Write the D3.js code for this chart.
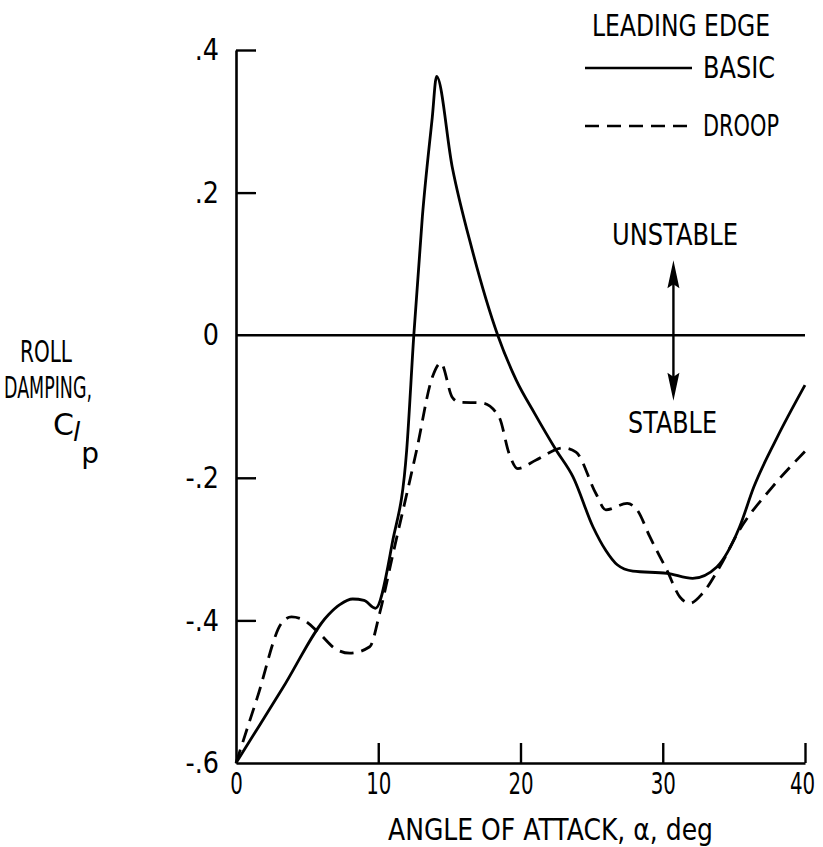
<!DOCTYPE html>
<html>
<head>
<meta charset="utf-8">
<script src="https://cdn.jsdelivr.net/npm/d3@7"></script>
<style>
  html, body { margin: 0; padding: 0; background: #fff; }
  svg text { font-family: "DejaVu Sans", sans-serif; fill: #000; }
</style>
</head>
<body>
<svg id="chart" width="823" height="847"></svg>
<script>
// ---- data ----
const basicAlpha = [0, 3.25, 6.5, 7.3, 8.2, 9.0, 9.8, 11.0, 12.0, 12.5, 13.1, 13.8, 14.1, 15.2, 16.6, 18.4, 19.7, 21.0, 22.5, 23.7, 25.1, 26.0, 26.8, 27.9, 30.3, 32.1, 33.8, 35.4, 36.4, 38.0, 40];
const basicCl    = [-0.6, -0.496, -0.392, -0.378, -0.370, -0.372, -0.383, -0.29, -0.161, 0, 0.166, 0.306, 0.363, 0.236, 0.12, 0, -0.063, -0.11, -0.161, -0.199, -0.269, -0.302, -0.322, -0.331, -0.334, -0.341, -0.325, -0.269, -0.213, -0.145, -0.07];

const droopAlpha = [0, 1.5, 3.2, 3.9, 4.8, 5.85, 7.0, 8.0, 9.4, 10.1, 11.0, 12.7, 13.8, 14.4, 15.2, 15.7, 17.3, 18.5, 19.2, 19.8, 21.1, 23.0, 23.9, 25.3, 26.0, 27.5, 28.2, 29.1, 30.3, 31.2, 31.9, 32.8, 34.0, 35.4, 37.7, 40];
const droopCl    = [-0.6, -0.508, -0.404, -0.395, -0.40, -0.418, -0.44, -0.446, -0.437, -0.39, -0.31, -0.161, -0.059, -0.039, -0.087, -0.094, -0.095, -0.115, -0.166, -0.187, -0.175, -0.158, -0.164, -0.222, -0.245, -0.236, -0.245, -0.283, -0.33, -0.367, -0.376, -0.362, -0.325, -0.273, -0.213, -0.163];

const xTickValues = [0, 10, 20, 30, 40];
const xTickLabels = ["0", "10", "20", "30", "40"];
const yTickValues = [0.4, 0.2, 0, -0.2, -0.4, -0.6];
const yTickLabels = [".4", ".2", "0", "-.2", "-.4", "-.6"];

const seriesNames = ["BASIC", "DROOP"];
const legendTitle = "LEADING EDGE";
const xTitle = "ANGLE OF ATTACK, \u03b1, deg";
const yTitleLines = ["ROLL", "DAMPING,"];

// ---- setup ----
const svg = d3.select("#chart");
const x = d3.scaleLinear().domain([0, 40]).range([236, 805]);
const y = d3.scaleLinear().domain([-0.6, 0.4]).range([763, 50]);

const stroke = "#000";
const fontSize = 30;

function fit(sel, w) {
  sel.attr("textLength", w).attr("lengthAdjust", "spacingAndGlyphs");
  return sel;
}

// ---- axes ----
const yAxis = d3.axisLeft(y)
  .tickValues(yTickValues)
  .tickFormat((d, i) => yTickLabels[i])
  .tickSizeInner(-20)
  .tickSizeOuter(0)
  .tickPadding(18);
const gy = svg.append("g").attr("transform", `translate(${x(0)},0)`).call(yAxis);
gy.select(".domain").attr("stroke", stroke).attr("stroke-width", 2.6);
gy.selectAll(".tick line").attr("stroke", stroke).attr("stroke-width", 2.4)
  .filter(d => d === 0 || d === -0.6).remove();
gy.selectAll(".tick text").attr("font-size", fontSize).attr("font-family", null)
  .attr("x", -17 / 0.85).attr("transform", "scale(0.85,1)");

const xAxis = d3.axisBottom(x)
  .tickValues(xTickValues)
  .tickFormat((d, i) => xTickLabels[i])
  .tickSizeInner(-20)
  .tickSizeOuter(0)
  .tickPadding(10);
const gx = svg.append("g").attr("transform", `translate(0,${y(-0.6)})`).call(xAxis);
gx.select(".domain").attr("stroke", stroke).attr("stroke-width", 2.6);
gx.selectAll(".tick line").attr("stroke", stroke).attr("stroke-width", 2.4)
  .filter(d => d === 0).remove();
gx.selectAll(".tick text").attr("font-size", fontSize).attr("font-family", null)
  .attr("transform", (d) => d === 40 ? "translate(-3,0) scale(0.66,1)" : "scale(0.66,1)");

// zero line
svg.append("line")
  .attr("x1", x(0)).attr("x2", x(40))
  .attr("y1", y(0)).attr("y2", y(0))
  .attr("stroke", stroke).attr("stroke-width", 2.4);

// ---- curves ----
const line = d3.line()
  .x(d => x(d[0]))
  .y(d => y(d[1]))
  .curve(d3.curveMonotoneX);

const basic = basicAlpha.map((a, i) => [a, basicCl[i]]);
const droop = droopAlpha.map((a, i) => [a, droopCl[i]]);

svg.append("path").datum(basic)
  .attr("d", line).attr("fill", "none")
  .attr("stroke", stroke).attr("stroke-width", 2.8)
  .attr("stroke-linejoin", "round");

svg.append("path").datum(droop)
  .attr("d", line).attr("fill", "none")
  .attr("stroke", stroke).attr("stroke-width", 2.8)
  .attr("stroke-dasharray", "14,8");

// ---- axis titles ----
fit(svg.append("text")
  .attr("x", 388).attr("y", 840)
  .attr("font-size", fontSize)
  .text(xTitle), 325);

const yt = svg.append("g");
fit(yt.append("text").attr("x", 20).attr("y", 362).attr("font-size", fontSize).text(yTitleLines[0]), 52);
fit(yt.append("text").attr("x", 4).attr("y", 398).attr("font-size", fontSize).text(yTitleLines[1]), 88);
const ct = yt.append("text").attr("x", 53).attr("y", 435).attr("font-size", fontSize);
ct.append("tspan").text("C");
ct.append("tspan").attr("dy", 6).attr("dx", -1).attr("font-size", 26).attr("font-style", "italic").text("l");
ct.append("tspan").attr("dy", 22).attr("dx", 1).attr("font-size", 28).text("p");

// ---- stability arrow ----
const ax = x(30.75);
const yTop = y(0.105), yBot = y(-0.092);
svg.append("line").attr("x1", ax).attr("x2", ax).attr("y1", yTop + 10).attr("y2", yBot - 10)
  .attr("stroke", stroke).attr("stroke-width", 2.4);
svg.append("path").attr("d", `M${ax},${yTop} L${ax - 6},${yTop + 28} L${ax},${yTop + 24} L${ax + 6},${yTop + 28} Z`).attr("fill", stroke);
svg.append("path").attr("d", `M${ax},${yBot} L${ax - 6},${yBot - 28} L${ax},${yBot - 24} L${ax + 6},${yBot - 28} Z`).attr("fill", stroke);

fit(svg.append("text").attr("x", 612).attr("y", 245).attr("font-size", fontSize).text("UNSTABLE"), 126);
fit(svg.append("text").attr("x", 628).attr("y", 433).attr("font-size", fontSize).text("STABLE"), 89);

// ---- legend ----
fit(svg.append("text").attr("x", 592).attr("y", 36).attr("font-size", fontSize).text(legendTitle), 178);
svg.append("line").attr("x1", 585).attr("x2", 692).attr("y1", 68).attr("y2", 68)
  .attr("stroke", stroke).attr("stroke-width", 2.6);
fit(svg.append("text").attr("x", 703).attr("y", 78).attr("font-size", fontSize).text(seriesNames[0]), 72);
svg.append("line").attr("x1", 585).attr("x2", 692).attr("y1", 126).attr("y2", 126)
  .attr("stroke", stroke).attr("stroke-width", 2.6).attr("stroke-dasharray", "14,8");
fit(svg.append("text").attr("x", 703).attr("y", 136).attr("font-size", fontSize).text(seriesNames[1]), 76);
</script>
</body>
</html>
